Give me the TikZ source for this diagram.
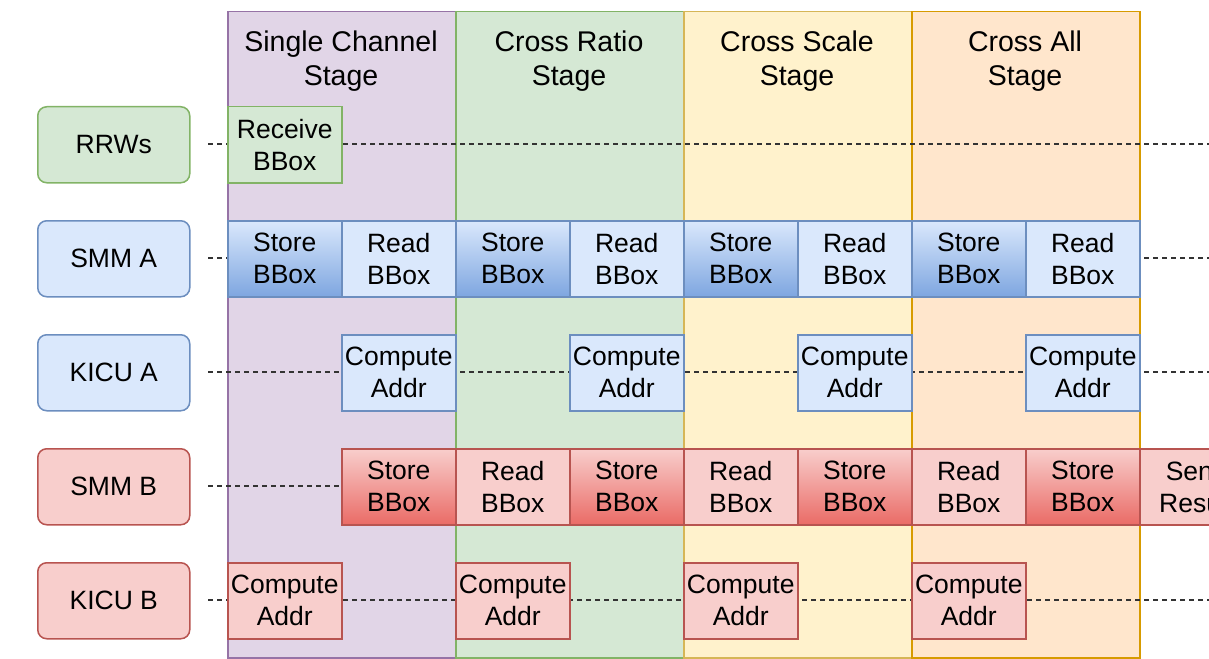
\documentclass[tikz,border=0pt]{standalone}
\usepackage{fontspec}
\setmainfont{Liberation Sans}
\definecolor{purpleF}{HTML}{E1D5E7}\definecolor{purpleD}{HTML}{9673A6}
\definecolor{greenF}{HTML}{D5E8D4}\definecolor{greenD}{HTML}{82B366}
\definecolor{yellowF}{HTML}{FFF2CC}\definecolor{yellowD}{HTML}{D6B656}
\definecolor{orangeF}{HTML}{FFE6CC}\definecolor{orangeD}{HTML}{D79B00}
\definecolor{blueF}{HTML}{DAE8FC}\definecolor{blueD}{HTML}{6C8EBF}\definecolor{blueG}{HTML}{7EA6E0}
\definecolor{redF}{HTML}{F8CECC}\definecolor{redD}{HTML}{B85450}\definecolor{redG}{HTML}{EA6B66}
\definecolor{dashC}{HTML}{333333}
\begin{document}
\begin{tikzpicture}[x=1pt,y=-1pt,
  font=\fontsize{26.5}{32}\selectfont,
  stagebox/.style={draw, line width=1.5pt, minimum width=228pt, minimum height=646pt,
    anchor=north west, inner sep=0pt},
  header/.style={align=center, inner sep=0pt, font=\fontsize{28.5}{34}\selectfont},
  rowlabel/.style={draw, line width=1.5pt, rounded corners=9pt, minimum width=152pt,
    minimum height=76pt, inner sep=0pt, anchor=north west},
  cell/.style={draw, line width=1.5pt, minimum width=114pt, minimum height=76pt,
    align=center, inner sep=0pt, anchor=north west},
  bluecell/.style={cell, fill=blueF, draw=blueD},
  bluegrad/.style={cell, draw=blueD, top color=blueF, bottom color=blueG},
  redcell/.style={cell, fill=redF, draw=redD},
  redgrad/.style={cell, draw=redD, top color=redF, bottom color=redG},
  greencell/.style={cell, fill=greenF, draw=greenD},
  dashline/.style={draw=dashC, line width=1.3pt, dash pattern=on 5pt off 4pt},
]
\useasboundingbox (0,0) rectangle (1209,658);
\clip (0,0) rectangle (1209,658);

% stage columns
\node[stagebox, fill=purpleF, draw=purpleD] (st1) at (227,11) {};
\node[stagebox, fill=greenF, draw=greenD] (st2) at (455,11) {};
\node[stagebox, fill=yellowF, draw=yellowD] (st3) at (683,11) {};
\node[stagebox, fill=orangeF, draw=orangeD] (st4) at (911,11) {};
\node[header] (h1) at (341,61) {Single Channel\\Stage};
\node[header] (h2) at (569,61) {Cross Ratio\\Stage};
\node[header] (h3) at (797,61) {Cross Scale\\Stage};
\node[header] (h4) at (1025,61) {Cross All\\Stage};

% row labels
\node[rowlabel, fill=greenF, draw=greenD] (rrw) at (37,106) {RRWs};
\node[rowlabel, fill=blueF, draw=blueD] (smma) at (37,220) {SMM A};
\node[rowlabel, fill=blueF, draw=blueD] (kicua) at (37,334) {KICU A};
\node[rowlabel, fill=redF, draw=redD] (smmb) at (37,448) {SMM B};
\node[rowlabel, fill=redF, draw=redD] (kicub) at (37,562) {KICU B};

% timelines
\foreach \n/\y in {1/144,2/258,3/372,4/486,5/600}{
  \coordinate (ts\n) at (208,\y);
  \coordinate (te\n) at (1212,\y);
  \draw[dashline] (ts\n) -- (te\n);
}

% RRWs
\node[greencell] (recv) at (227,106) {Receive\\BBox};

% SMM A
\node[bluegrad] (a1) at (227,220) {Store\\BBox};
\node[bluecell] (a2) at (341,220) {Read\\BBox};
\node[bluegrad] (a3) at (455,220) {Store\\BBox};
\node[bluecell] (a4) at (569,220) {Read\\BBox};
\node[bluegrad] (a5) at (683,220) {Store\\BBox};
\node[bluecell] (a6) at (797,220) {Read\\BBox};
\node[bluegrad] (a7) at (911,220) {Store\\BBox};
\node[bluecell] (a8) at (1025,220) {Read\\BBox};

% KICU A
\node[bluecell] (ka1) at (341,334) {Compute\\Addr};
\node[bluecell] (ka2) at (569,334) {Compute\\Addr};
\node[bluecell] (ka3) at (797,334) {Compute\\Addr};
\node[bluecell] (ka4) at (1025,334) {Compute\\Addr};

% SMM B
\node[redgrad] (b1) at (341,448) {Store\\BBox};
\node[redcell] (b2) at (455,448) {Read\\BBox};
\node[redgrad] (b3) at (569,448) {Store\\BBox};
\node[redcell] (b4) at (683,448) {Read\\BBox};
\node[redgrad] (b5) at (797,448) {Store\\BBox};
\node[redcell] (b6) at (911,448) {Read\\BBox};
\node[redgrad] (b7) at (1025,448) {Store\\BBox};
\node[redcell] (b8) at (1139,448) {Send\\Result};

% KICU B
\node[redcell] (kb1) at (227,562) {Compute\\Addr};
\node[redcell] (kb2) at (455,562) {Compute\\Addr};
\node[redcell] (kb3) at (683,562) {Compute\\Addr};
\node[redcell] (kb4) at (911,562) {Compute\\Addr};
\end{tikzpicture}
\end{document}
